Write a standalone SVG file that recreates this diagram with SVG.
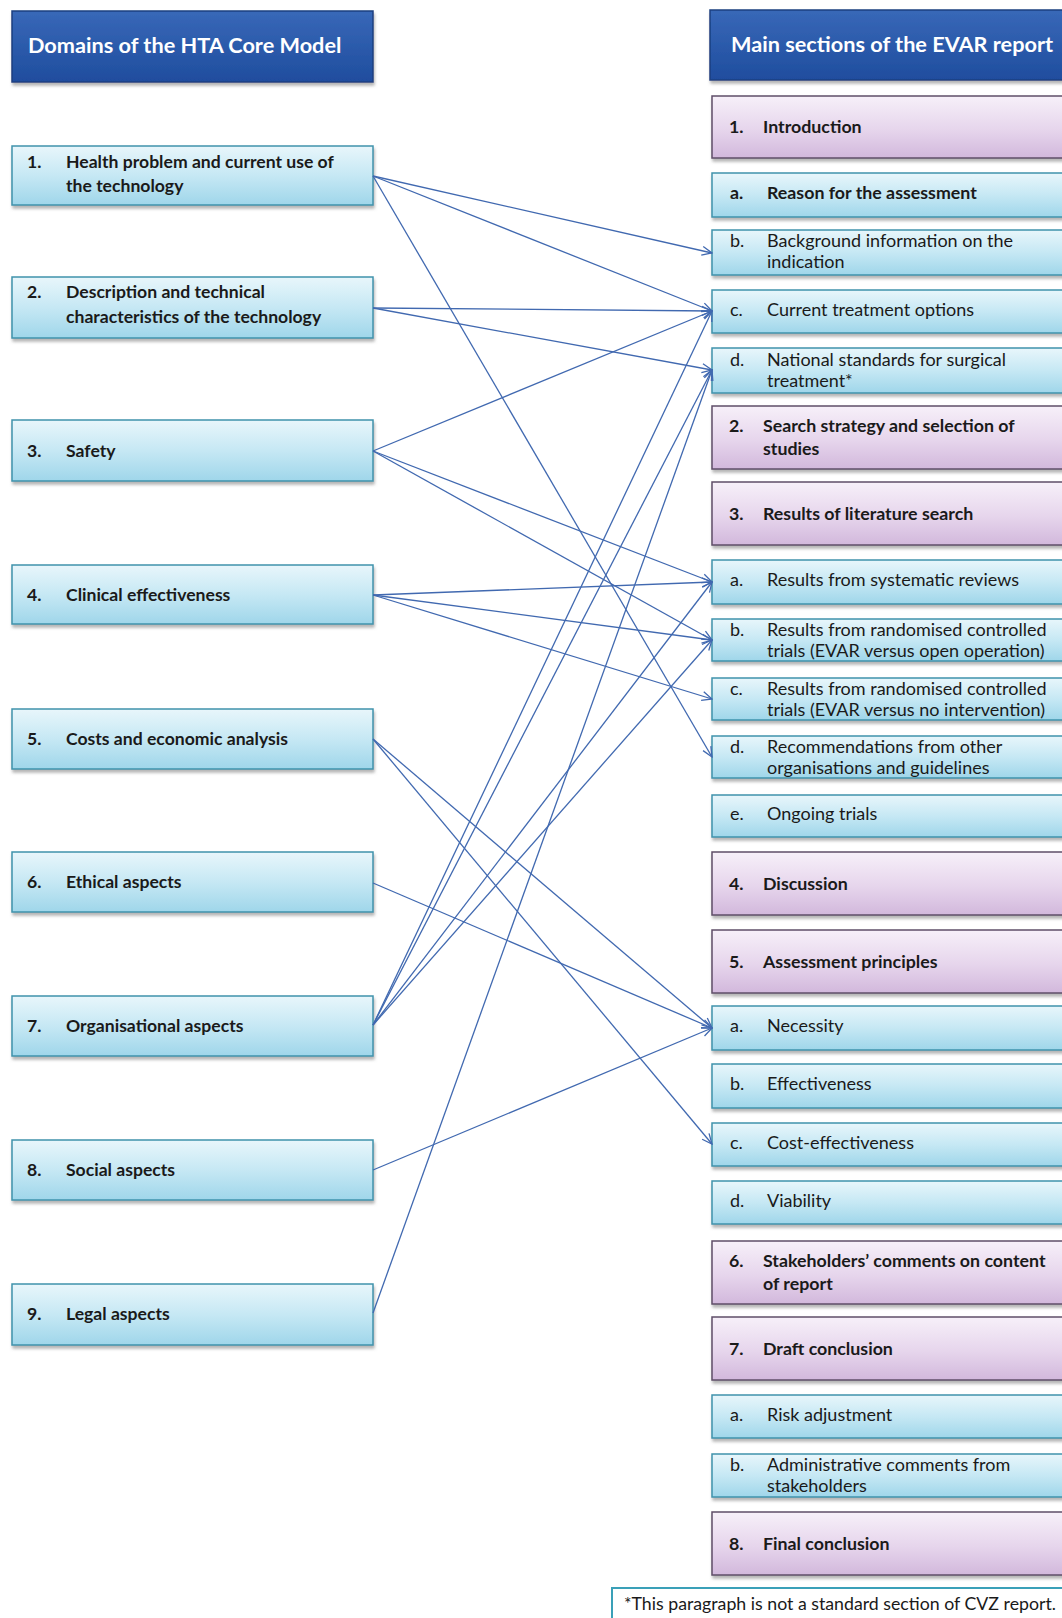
<svg xmlns="http://www.w3.org/2000/svg" width="1062" height="1618" viewBox="0 0 1062 1618">
<defs>
<linearGradient id="gBlue" x1="0" y1="0" x2="0" y2="1">
<stop offset="0" stop-color="#e8f6fb"/><stop offset="0.5" stop-color="#c6e8f4"/><stop offset="1" stop-color="#9fd6ea"/>
</linearGradient>
<linearGradient id="gPurple" x1="0" y1="0" x2="0" y2="1">
<stop offset="0" stop-color="#f7f0f9"/><stop offset="0.55" stop-color="#e6d5ec"/><stop offset="1" stop-color="#d2b8dc"/>
</linearGradient>
<linearGradient id="gHead" x1="0" y1="0" x2="0" y2="1">
<stop offset="0" stop-color="#3868b8"/><stop offset="1" stop-color="#1f4d9e"/>
</linearGradient>
<filter id="sh" x="-5%" y="-20%" width="115%" height="160%">
<feDropShadow dx="1" dy="3" stdDeviation="1.5" flood-color="#7a7a7a" flood-opacity="0.55"/>
</filter>
<marker id="arr" viewBox="0 0 12 12" refX="11" refY="6" markerWidth="12" markerHeight="12" markerUnits="userSpaceOnUse" orient="auto">
<path d="M1,1.5 L11,6 L1,10.5" fill="none" stroke="#4169b0" stroke-width="1.3"/>
</marker>
<style>
.bl{fill:url(#gBlue);stroke:#3f93ac;stroke-width:1.5;filter:url(#sh)}
.pu{fill:url(#gPurple);stroke:#5f4d68;stroke-width:1.5;filter:url(#sh)}
.hd{fill:url(#gHead);stroke:#1a3f80;stroke-width:1.5;filter:url(#sh)}
.ht{font-family:Lato,"Liberation Sans",sans-serif;font-weight:bold;font-size:21.7px;fill:#ffffff}
.lt{font-family:Lato,"Liberation Sans",sans-serif;font-weight:bold;font-size:17.6px;fill:#1a1a1a}
.rb{font-family:Lato,"Liberation Sans",sans-serif;font-weight:bold;font-size:17.8px;fill:#1a1a1a}
.rr{font-family:Lato,"Liberation Sans",sans-serif;font-size:18px;fill:#1a1a1a}
.fn{font-family:Lato,"Liberation Sans",sans-serif;font-size:17.6px;fill:#1a1a1a}
.cn path{fill:none;stroke:#4169b0;stroke-width:1.3;marker-end:url(#arr)}
</style>
</defs>
<rect width="1062" height="1618" fill="#ffffff"/>

<g id="header-left"><rect class="hd" x="12" y="11" width="361" height="71"/><text class="ht" x="28" y="53">Domains of the HTA Core Model</text></g>
<g id="header-right"><rect class="hd" x="710" y="10" width="360" height="70"/><text class="ht" x="731" y="52">Main sections of the EVAR report</text></g>

<g id="L1"><rect class="bl" x="12" y="146" width="361" height="59"/><text class="lt" x="27" y="168">1.</text><text class="lt" x="66" y="168">Health problem and current use of</text><text class="lt" x="66" y="192">the technology</text></g>
<g id="L2"><rect class="bl" x="12" y="277" width="361" height="61"/><text class="lt" x="27" y="298">2.</text><text class="lt" x="66" y="298">Description and technical</text><text class="lt" x="66" y="323">characteristics of the technology</text></g>
<g id="L3"><rect class="bl" x="12" y="420" width="361" height="61"/><text class="lt" x="27" y="457">3.</text><text class="lt" x="66" y="457">Safety</text></g>
<g id="L4"><rect class="bl" x="12" y="565" width="361" height="59"/><text class="lt" x="27" y="601">4.</text><text class="lt" x="66" y="601">Clinical effectiveness</text></g>
<g id="L5"><rect class="bl" x="12" y="709" width="361" height="60"/><text class="lt" x="27" y="745">5.</text><text class="lt" x="66" y="745">Costs and economic analysis</text></g>
<g id="L6"><rect class="bl" x="12" y="852" width="361" height="60"/><text class="lt" x="27" y="888">6.</text><text class="lt" x="66" y="888">Ethical aspects</text></g>
<g id="L7"><rect class="bl" x="12" y="996" width="361" height="60"/><text class="lt" x="27" y="1032">7.</text><text class="lt" x="66" y="1032">Organisational aspects</text></g>
<g id="L8"><rect class="bl" x="12" y="1140" width="361" height="60"/><text class="lt" x="27" y="1176">8.</text><text class="lt" x="66" y="1176">Social aspects</text></g>
<g id="L9"><rect class="bl" x="12" y="1284" width="361" height="61"/><text class="lt" x="27" y="1320">9.</text><text class="lt" x="66" y="1320">Legal aspects</text></g>

<g id="R1"><rect class="pu" x="712" y="96" width="360" height="62"/><text class="rb" x="729" y="133">1.</text><text class="rb" x="763" y="133">Introduction</text></g>
<g id="R1a"><rect class="bl" x="712" y="173" width="360" height="44"/><text class="rb" x="730" y="199">a.</text><text class="rb" x="767" y="199">Reason for the assessment</text></g>
<g id="R1b"><rect class="bl" x="712" y="230" width="360" height="45"/><text class="rr" x="730" y="247">b.</text><text class="rr" x="767" y="247">Background information on the</text><text class="rr" x="767" y="268">indication</text></g>
<g id="R1c"><rect class="bl" x="712" y="290" width="360" height="43"/><text class="rr" x="730" y="316">c.</text><text class="rr" x="767" y="316">Current treatment options</text></g>
<g id="R1d"><rect class="bl" x="712" y="348" width="360" height="45"/><text class="rr" x="730" y="366">d.</text><text class="rr" x="767" y="366">National standards for surgical</text><text class="rr" x="767" y="387">treatment*</text></g>
<g id="R2"><rect class="pu" x="712" y="406" width="360" height="63"/><text class="rb" x="729" y="432">2.</text><text class="rb" x="763" y="432">Search strategy and selection of</text><text class="rb" x="763" y="455">studies</text></g>
<g id="R3"><rect class="pu" x="712" y="482" width="360" height="63"/><text class="rb" x="729" y="520">3.</text><text class="rb" x="763" y="520">Results of literature search</text></g>
<g id="R3a"><rect class="bl" x="712" y="560" width="360" height="44"/><text class="rr" x="730" y="586">a.</text><text class="rr" x="767" y="586">Results from systematic reviews</text></g>
<g id="R3b"><rect class="bl" x="712" y="619" width="360" height="42"/><text class="rr" x="730" y="636">b.</text><text class="rr" x="767" y="636">Results from randomised controlled</text><text class="rr" x="767" y="657">trials (EVAR versus open operation)</text></g>
<g id="R3c"><rect class="bl" x="712" y="678" width="360" height="42"/><text class="rr" x="730" y="695">c.</text><text class="rr" x="767" y="695">Results from randomised controlled</text><text class="rr" x="767" y="716">trials (EVAR versus no intervention)</text></g>
<g id="R3d"><rect class="bl" x="712" y="736" width="360" height="42"/><text class="rr" x="730" y="753">d.</text><text class="rr" x="767" y="753">Recommendations from other</text><text class="rr" x="767" y="774">organisations and guidelines</text></g>
<g id="R3e"><rect class="bl" x="712" y="795" width="360" height="42"/><text class="rr" x="730" y="820">e.</text><text class="rr" x="767" y="820">Ongoing trials</text></g>
<g id="R4"><rect class="pu" x="712" y="852" width="360" height="63"/><text class="rb" x="729" y="890">4.</text><text class="rb" x="763" y="890">Discussion</text></g>
<g id="R5"><rect class="pu" x="712" y="930" width="360" height="63"/><text class="rb" x="729" y="968">5.</text><text class="rb" x="763" y="968">Assessment principles</text></g>
<g id="R5a"><rect class="bl" x="712" y="1006" width="360" height="44"/><text class="rr" x="730" y="1032">a.</text><text class="rr" x="767" y="1032">Necessity</text></g>
<g id="R5b"><rect class="bl" x="712" y="1064" width="360" height="44"/><text class="rr" x="730" y="1090">b.</text><text class="rr" x="767" y="1090">Effectiveness</text></g>
<g id="R5c"><rect class="bl" x="712" y="1123" width="360" height="43"/><text class="rr" x="730" y="1149">c.</text><text class="rr" x="767" y="1149">Cost-effectiveness</text></g>
<g id="R5d"><rect class="bl" x="712" y="1181" width="360" height="43"/><text class="rr" x="730" y="1207">d.</text><text class="rr" x="767" y="1207">Viability</text></g>
<g id="R6"><rect class="pu" x="712" y="1241" width="360" height="63"/><text class="rb" x="729" y="1267">6.</text><text class="rb" x="763" y="1267">Stakeholders’ comments on content</text><text class="rb" x="763" y="1290">of report</text></g>
<g id="R7"><rect class="pu" x="712" y="1317" width="360" height="63"/><text class="rb" x="729" y="1355">7.</text><text class="rb" x="763" y="1355">Draft conclusion</text></g>
<g id="R7a"><rect class="bl" x="712" y="1395" width="360" height="43"/><text class="rr" x="730" y="1421">a.</text><text class="rr" x="767" y="1421">Risk adjustment</text></g>
<g id="R7b"><rect class="bl" x="712" y="1454" width="360" height="43"/><text class="rr" x="730" y="1471">b.</text><text class="rr" x="767" y="1471">Administrative comments from</text><text class="rr" x="767" y="1492">stakeholders</text></g>
<g id="R8"><rect class="pu" x="712" y="1512" width="360" height="63"/><text class="rb" x="729" y="1550">8.</text><text class="rb" x="763" y="1550">Final conclusion</text></g>

<g id="footnote"><rect x="612" y="1588" width="460" height="40" fill="#ffffff" stroke="#3aa0b8" stroke-width="2"/><text class="fn" x="624" y="1610" textLength="432" lengthAdjust="spacingAndGlyphs">*This paragraph is not a standard section of CVZ report.</text></g>

<g id="connectors" class="cn">
<path d="M373,176 L712,253"/>
<path d="M373,176 L712,311"/>
<path d="M373,176 L712,757"/>
<path d="M373,308 L712,311"/>
<path d="M373,308 L712,370"/>
<path d="M373,451 L712,311"/>
<path d="M373,451 L712,582"/>
<path d="M373,451 L712,640"/>
<path d="M373,595 L712,582"/>
<path d="M373,595 L712,640"/>
<path d="M373,595 L712,699"/>
<path d="M373,739 L712,1028"/>
<path d="M373,739 L712,1144"/>
<path d="M373,883 L712,1028"/>
<path d="M373,1025 L712,311"/>
<path d="M373,1025 L712,370"/>
<path d="M373,1025 L712,582"/>
<path d="M373,1025 L712,640"/>
<path d="M373,1170 L712,1028"/>
<path d="M373,1313 L712,370"/>
</g>
</svg>
